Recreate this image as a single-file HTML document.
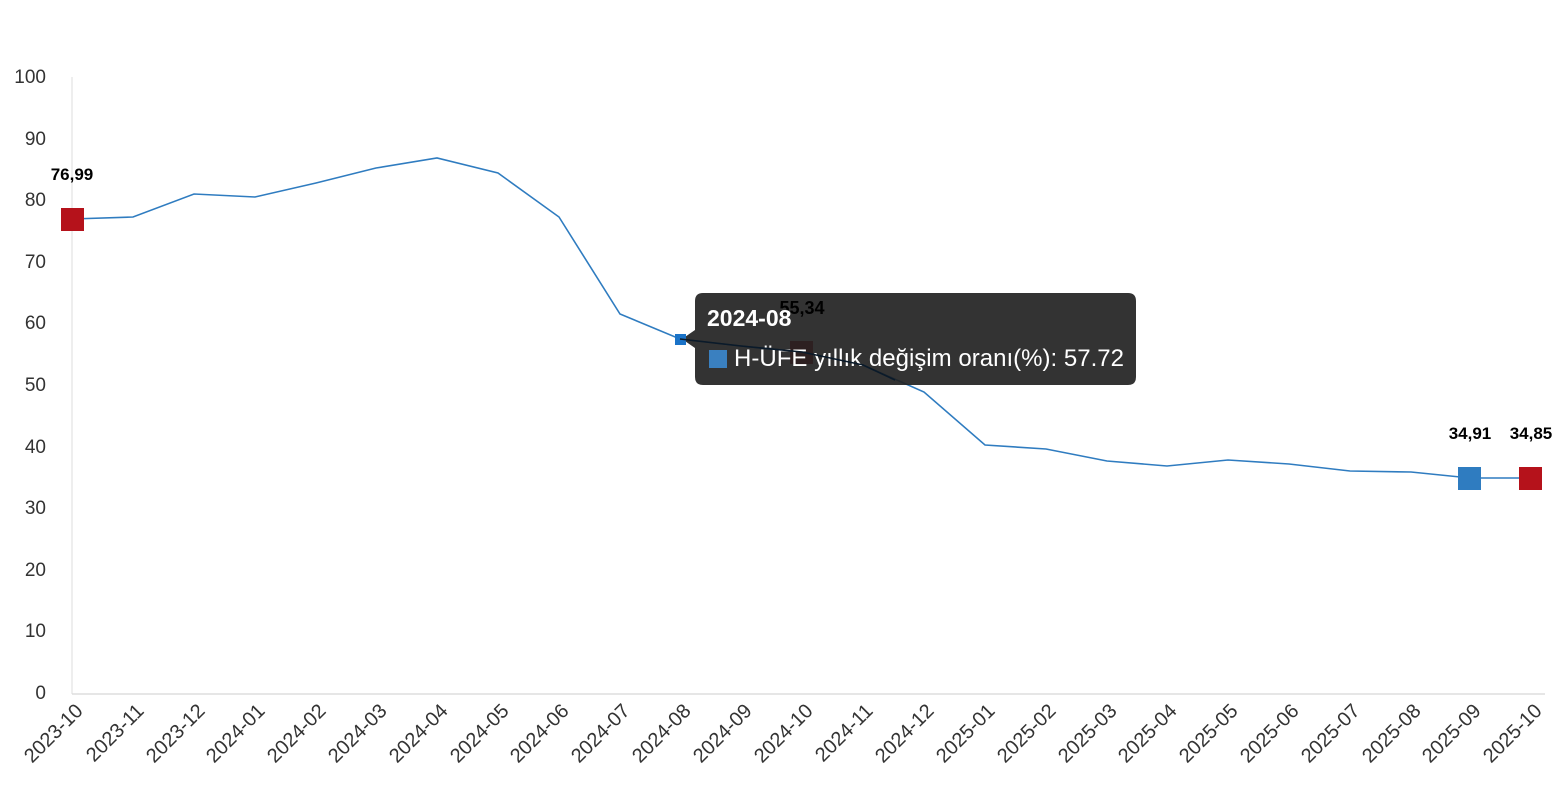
<!DOCTYPE html>
<html><head><meta charset="utf-8"><style>html,body{margin:0;padding:0;background:#fff}svg{display:block}</style></head>
<body>
<svg width="1556" height="800" xmlns="http://www.w3.org/2000/svg" font-family="Liberation Sans, DejaVu Sans, sans-serif">
<line x1="72" y1="77" x2="72" y2="694" stroke="#ddd" stroke-width="1"/>
<line x1="72" y1="694" x2="1545" y2="694" stroke="#ddd" stroke-width="1.5"/>
<g font-size="19" fill="#333" text-anchor="end">
<text x="46" y="83">100</text><text x="46" y="145">90</text><text x="46" y="206">80</text><text x="46" y="268">70</text><text x="46" y="329">60</text><text x="46" y="391">50</text><text x="46" y="453">40</text><text x="46" y="514">30</text><text x="46" y="576">20</text><text x="46" y="637">10</text><text x="46" y="699">0</text>
</g>
<g font-size="20" fill="#333" text-anchor="end">
<text transform="translate(84,712) rotate(-45)">2023-10</text>
<text transform="translate(145,712) rotate(-45)">2023-11</text>
<text transform="translate(206,712) rotate(-45)">2023-12</text>
<text transform="translate(266,712) rotate(-45)">2024-01</text>
<text transform="translate(327,712) rotate(-45)">2024-02</text>
<text transform="translate(388,712) rotate(-45)">2024-03</text>
<text transform="translate(449,712) rotate(-45)">2024-04</text>
<text transform="translate(510,712) rotate(-45)">2024-05</text>
<text transform="translate(570,712) rotate(-45)">2024-06</text>
<text transform="translate(631,712) rotate(-45)">2024-07</text>
<text transform="translate(692,712) rotate(-45)">2024-08</text>
<text transform="translate(753,712) rotate(-45)">2024-09</text>
<text transform="translate(814,712) rotate(-45)">2024-10</text>
<text transform="translate(874,712) rotate(-45)">2024-11</text>
<text transform="translate(935,712) rotate(-45)">2024-12</text>
<text transform="translate(996,712) rotate(-45)">2025-01</text>
<text transform="translate(1057,712) rotate(-45)">2025-02</text>
<text transform="translate(1118,712) rotate(-45)">2025-03</text>
<text transform="translate(1178,712) rotate(-45)">2025-04</text>
<text transform="translate(1239,712) rotate(-45)">2025-05</text>
<text transform="translate(1300,712) rotate(-45)">2025-06</text>
<text transform="translate(1361,712) rotate(-45)">2025-07</text>
<text transform="translate(1422,712) rotate(-45)">2025-08</text>
<text transform="translate(1482,712) rotate(-45)">2025-09</text>
<text transform="translate(1543,712) rotate(-45)">2025-10</text>
</g>
<polyline fill="none" stroke="#2f7cc0" stroke-width="1.6" points="72,219 133,217 194,194 255,197 316,183 376,168 437,158 498,173 559,217 620,314 680,339 741,346 802,352 863,365 924,392 985,445 1046,449 1107,461 1167,466 1228,460 1289,464 1350,471 1411,472 1470,478 1531,478"/>
<rect x="61" y="208" width="23" height="23" fill="#b5121b"/>
<rect x="1519" y="467" width="23" height="23" fill="#b5121b"/>
<rect x="1458" y="467" width="23" height="23" fill="#2f7cc0"/>
<rect x="790" y="341" width="23" height="23" fill="#b5121b"/>
<g font-size="17" font-weight="bold" fill="#000" text-anchor="middle">
<text x="72" y="180">76,99</text><text x="1470" y="439">34,91</text><text x="1531" y="439">34,85</text>
</g>
<path d="M703,293 H1128 Q1136,293 1136,301 V377 Q1136,385 1128,385 H703 Q695,385 695,377 V348 L682,339 L695,330 V301 Q695,293 703,293 Z" fill="#222" fill-opacity="0.92"/>
<rect x="675" y="334" width="11" height="11" fill="#1a73c8"/>
<text x="802" y="314" font-size="18" font-weight="bold" fill="#000" text-anchor="middle">55,34</text>
<text x="707" y="326" font-size="23" font-weight="bold" fill="#fff">2024-08</text>
<rect x="709" y="350" width="18" height="18" fill="#3a80c0"/>
<text x="734" y="366" font-size="24" fill="#fff" textLength="390">H-ÜFE yıllık değişim oranı(%): 57.72</text>
<polyline fill="none" stroke="#0a1a2a" stroke-width="1.6" points="680,339 741,346 802,352 863,365 895,380"/>
</svg>
</body></html>
